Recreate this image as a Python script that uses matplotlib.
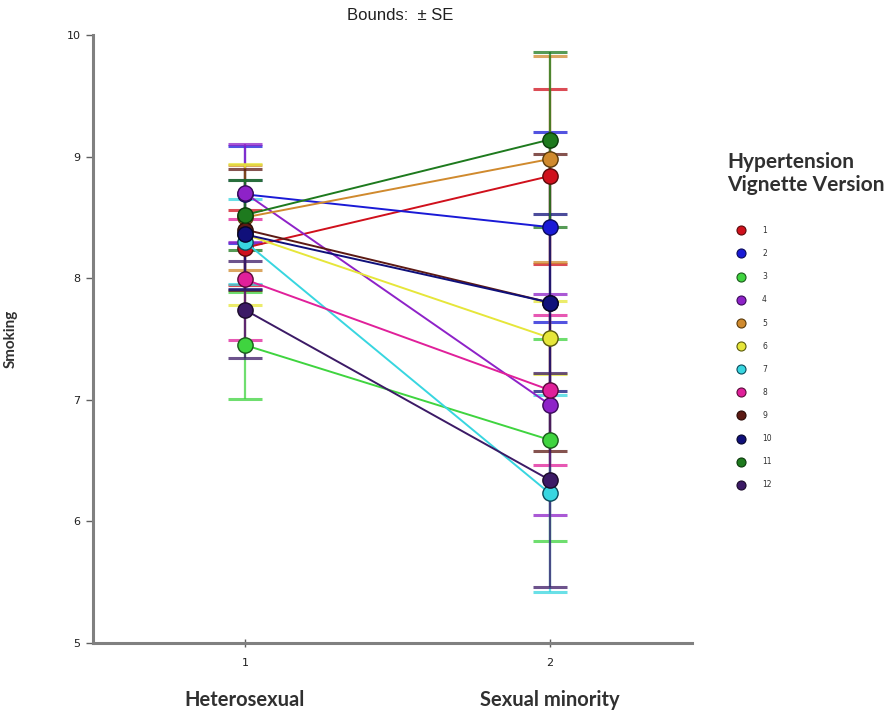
import matplotlib
matplotlib.use('Agg')
import matplotlib.pyplot as plt
from matplotlib.lines import Line2D
from matplotlib.transforms import blended_transform_factory

# ---- data ----
groups = [1, 2]
group_labels = ['Heterosexual', 'Sexual minority']
versions = ['1', '2', '3', '4', '5', '6', '7', '8', '9', '10', '11', '12']
hetero_mean = [8.25, 8.69, 7.45, 8.70, 8.50, 8.36, 8.30, 7.99, 8.40, 8.36, 8.52, 7.74]
minority_mean = [8.84, 8.42, 6.67, 6.96, 8.98, 7.51, 6.23, 7.08, 7.80, 7.80, 9.14, 6.34]
hetero_se = [0.31, 0.40, 0.44, 0.40, 0.43, 0.58, 0.35, 0.50, 0.50, 0.45, 0.29, 0.40]
minority_se = [0.72, 0.78, 0.83, 0.91, 0.85, 0.30, 0.81, 0.62, 1.22, 0.73, 0.72, 0.88]
colors = ['#d0101c', '#1a1ad6', '#3fd43f', '#8e22c8', '#d08a2e', '#e6e63a',
          '#38d6e0', '#e0209a', '#5c1a14', '#10107a', '#1e7a1e', '#3c1a66']
edge_colors = ['#5a0a0a', '#0a0a5a', '#1a5a1a', '#3a0a5a', '#5a3a0a', '#5a5a0a',
               '#0a4a5a', '#5a0a3a', '#2a0a05', '#05052a', '#0a3a0a', '#1a0a2a']

W, H = 894, 716
fig = plt.figure(figsize=(W / 100, H / 100), dpi=100)
ax = fig.add_axes([93 / W, 1 - 643 / H, (692 - 93) / W, (643 - 35) / H])
ax.set_xlim(0.502, 2.466)
ax.set_ylim(5, 10)

# error bars
for i in range(len(versions)):
    for x, m, s in ((groups[0], hetero_mean[i], hetero_se[i]),
                    (groups[1], minority_mean[i], minority_se[i])):
        ax.errorbar([x], [m], yerr=[s], fmt='none', ecolor=colors[i],
                    elinewidth=1.6, capsize=12, capthick=2.2, alpha=0.75, zorder=2)

# lines + markers
for i in range(len(versions)):
    ax.plot(groups, [hetero_mean[i], minority_mean[i]], color=colors[i], lw=1.4,
            marker='o', markersize=11, markerfacecolor=colors[i],
            markeredgecolor=edge_colors[i], markeredgewidth=1.0, zorder=3)

# spines / ticks
for sp in ['top', 'right']:
    ax.spines[sp].set_visible(False)
for sp in ['left', 'bottom']:
    ax.spines[sp].set_color('#808080')
    ax.spines[sp].set_linewidth(2.2)
ax.set_yticks([5, 6, 7, 8, 9, 10])
ax.set_yticklabels(['5', '6', '7', '8', '9', '10'])
ax.set_xticks(groups)
ax.set_xticklabels(['1', '2'])
ax.tick_params(axis='y', length=5, width=1, color='#606060', labelsize=8,
               labelcolor='#202020', pad=4)
ax.tick_params(axis='x', direction='inout', length=6, width=1, color='#606060',
               labelsize=8, labelcolor='#202020', pad=8)

ax.set_ylabel('Smoking', fontsize=11, fontweight='bold', family='Lato',
              color='#303030')
ax.yaxis.set_label_coords(-(93 - 18) / 599, 0.5)

tr = blended_transform_factory(ax.transData, ax.transAxes)
for g, lab in zip(groups, group_labels):
    ax.text(g, (643 - 700) / 608, lab, transform=tr, ha='center', va='center',
            fontsize=14.5, fontweight='bold', family='Lato', color='#303030')

fig.text(400 / W, 1 - 15 / H, 'Bounds:  \u00b1 SE', ha='center', va='center',
         fontsize=12, family='Liberation Sans', color='#202020')

# legend
fig.text(727 / W, 1 - 152 / H, 'Hypertension\nVignette Version', ha='left', va='top',
         fontsize=15, fontweight='bold', family='Lato', color='#303030',
         linespacing=1.2)
handles = [Line2D([], [], linestyle='none', marker='o', markersize=6.5,
                  markerfacecolor=colors[i], markeredgecolor=edge_colors[i],
                  markeredgewidth=0.8) for i in range(len(versions))]
leg = fig.legend(handles, versions, loc='upper left',
                 bbox_to_anchor=(733 / W, 1 - 226 / H), frameon=False,
                 fontsize=5.5, labelspacing=1.85, handlelength=2.0,
                 handletextpad=1.8, borderpad=0, borderaxespad=0)
for t in leg.get_texts():
    t.set_color('#303030')

fig.savefig('out.png', dpi=100)
